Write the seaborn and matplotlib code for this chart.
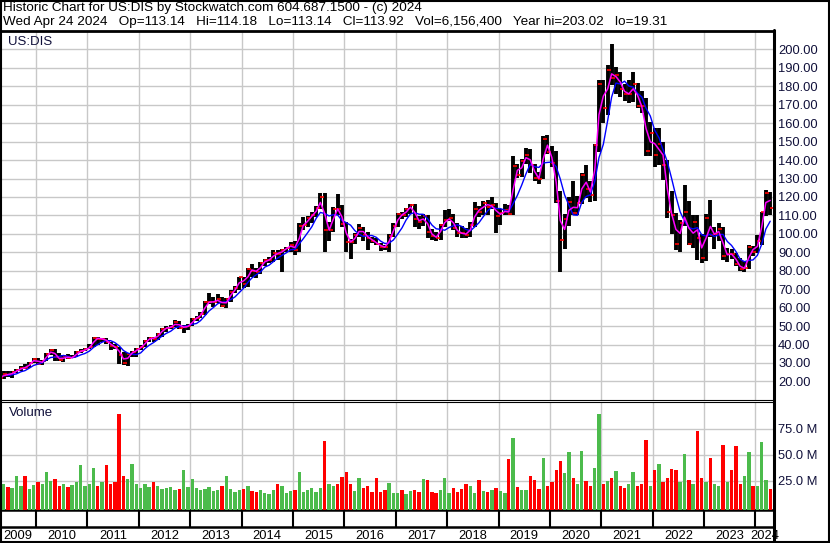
import numpy as np
import pandas as pd
import matplotlib
matplotlib.use('Agg')
import matplotlib.pyplot as plt
import matplotlib.dates as mdates
from matplotlib.lines import Line2D
from matplotlib.patches import Rectangle
import seaborn as sns

# monthly bars, Apr 2009 .. Apr 2024
close = [
    21.9, 24.2, 23.3, 25.1, 26.0, 27.5, 27.4, 30.2, 32.3,                      # 2009
    29.6, 31.2, 34.9, 36.9, 33.4, 31.5, 33.7, 32.6, 33.1, 36.1, 36.5, 37.5,    # 2010
    38.9, 43.7, 43.1, 43.1, 41.6, 39.0, 38.6, 34.2, 30.2, 34.9, 35.9, 37.5,    # 2011
    38.9, 42.0, 43.8, 43.1, 45.7, 48.5, 49.2, 49.5, 52.3, 49.1, 49.7, 49.8,    # 2012
    53.9, 54.6, 56.8, 62.8, 63.1, 63.2, 64.7, 60.8, 64.5, 68.6, 70.5, 76.4,    # 2013
    72.6, 80.8, 80.1, 79.3, 84.0, 85.7, 85.9, 89.9, 89.0, 91.4, 92.5, 94.2,    # 2014
    91.0, 104.1, 104.9, 108.7, 110.4, 114.1, 120.0, 101.9, 102.2, 113.7, 113.5, 105.1,
    95.8, 95.5, 99.3, 103.3, 99.2, 97.8, 96.0, 94.5, 92.9, 92.7, 99.1, 104.2,
    110.7, 110.1, 113.4, 115.6, 107.9, 106.3, 109.9, 101.2, 98.6, 97.8, 104.8, 107.5,
    108.7, 103.2, 100.4, 100.3, 99.5, 104.8, 113.6, 112.0, 116.9, 114.8, 115.5, 109.7,
    111.5, 112.8, 111.0, 137.0, 132.0, 139.6, 143.0, 137.3, 130.3, 129.9, 151.6, 144.6,
    138.3, 117.7, 96.6, 108.2, 117.3, 111.5, 116.9, 131.9, 124.1, 121.3, 148.0, 181.2,
    168.2, 189.0, 184.5, 186.0, 178.7, 175.8, 176.0, 181.3, 169.2, 169.1, 144.9, 154.9,
    143.0, 148.5, 137.2, 111.6, 110.4, 94.4, 106.1, 112.1, 94.3, 106.5, 97.9, 86.9,
    108.5, 99.6, 100.1, 102.5, 88.0, 89.3, 88.9, 83.7, 81.1, 81.6, 92.7, 90.3,
    96.1, 111.6, 122.4, 113.9,                                                 # 2024
]
high = [
    24.0, 25.5, 25.5, 25.7, 26.8, 28.5, 29.5, 30.5, 32.8,
    32.7, 31.7, 35.2, 37.6, 37.4, 35.5, 34.5, 34.9, 34.3, 36.6, 37.4, 38.0,
    40.5, 44.3, 44.0, 43.8, 43.4, 41.6, 40.5, 38.8, 36.0, 35.5, 36.5, 38.0,
    39.5, 42.5, 44.0, 44.3, 46.5, 48.8, 49.8, 50.5, 53.4, 53.0, 50.5, 51.0,
    54.2, 55.5, 57.5, 63.5, 67.9, 66.0, 67.5, 66.0, 65.0, 69.5, 71.5, 76.8,
    76.8, 81.5, 83.6, 81.5, 84.5, 86.5, 87.4, 91.0, 91.2, 92.0, 93.0, 95.8,
    96.0, 106.0, 109.0, 109.5, 112.0, 115.0, 122.0, 122.1, 106.5, 114.5, 121.7, 115.5,
    106.5, 97.0, 100.5, 105.5, 103.5, 101.0, 98.5, 97.5, 95.0, 94.0, 100.0, 106.0,
    111.5, 111.8, 114.0, 116.1, 116.0, 109.5, 111.0, 110.0, 102.5, 101.0, 105.5, 113.2,
    113.5, 111.0, 106.0, 104.5, 103.0, 106.5, 117.5, 115.0, 117.9, 118.5, 120.2, 116.5,
    113.5, 116.0, 115.5, 142.0, 138.0, 140.5, 146.5, 146.0, 138.0, 133.5, 153.0, 153.4,
    147.5, 145.0, 123.0, 111.0, 120.0, 128.8, 120.5, 133.0, 137.5, 128.5, 149.0, 183.4,
    183.5, 191.5, 203.0, 190.5, 187.5, 181.5, 183.5, 187.5, 182.0, 177.5, 173.8, 160.5,
    157.5, 157.5, 150.0, 140.0, 123.5, 111.5, 107.5, 126.5, 118.0, 110.0, 110.0, 100.0,
    111.0, 118.2, 104.0, 106.0, 104.0, 92.5, 92.0, 89.5, 87.0, 85.5, 94.0, 93.5,
    99.5, 112.0, 123.7, 122.5,
]
low = [
    19.3, 21.5, 22.5, 22.0, 24.5, 25.6, 27.0, 27.2, 29.8,
    29.2, 28.9, 31.2, 34.5, 31.0, 31.2, 30.3, 32.0, 32.5, 33.0, 35.6, 36.3,
    37.5, 38.5, 40.0, 41.5, 40.2, 37.2, 37.5, 29.5, 29.0, 28.2, 33.0, 33.5,
    37.0, 38.8, 41.5, 41.5, 42.5, 44.0, 47.0, 48.3, 49.5, 48.3, 46.5, 48.0,
    50.2, 53.0, 54.2, 56.0, 62.0, 60.4, 62.5, 60.5, 60.0, 63.0, 68.0, 69.5,
    70.5, 71.0, 76.5, 76.3, 78.5, 82.5, 84.0, 84.8, 85.9, 79.5, 90.0, 90.0,
    88.5, 90.0, 102.0, 103.5, 106.0, 109.0, 113.5, 90.0, 96.0, 101.0, 110.5, 103.5,
    90.0, 86.3, 94.5, 98.5, 96.0, 91.5, 95.0, 94.0, 90.5, 91.0, 90.3, 98.5,
    103.5, 108.0, 109.0, 111.0, 104.0, 102.5, 104.5, 98.0, 96.5, 96.2, 96.5, 103.5,
    107.0, 102.0, 98.5, 97.5, 98.0, 98.5, 104.0, 109.0, 110.5, 110.0, 113.5, 100.4,
    105.0, 110.0, 110.5, 110.5, 130.5, 131.0, 138.0, 133.0, 128.5, 127.0, 129.5, 143.5,
    136.0, 116.5, 79.1, 92.0, 104.5, 110.0, 110.5, 116.0, 119.5, 117.5, 118.0, 144.5,
    160.0, 164.5, 180.5, 176.0, 174.0, 172.0, 171.0, 171.5, 168.5, 165.5, 142.0, 142.0,
    136.5, 137.5, 129.0, 108.5, 100.0, 91.0, 90.2, 104.5, 94.0, 92.5, 86.0, 84.1,
    85.5, 98.5, 92.0, 96.0, 86.0, 84.5, 86.5, 82.5, 80.0, 79.3, 81.0, 88.0,
    89.5, 94.0, 109.5, 110.5,
]
# volume, millions of shares
volume = [
    51, 22, 19, 18, 30, 20, 30, 17, 21,
    24, 22, 33, 25, 27, 20, 22, 19, 21, 24, 40, 20,
    22, 37, 20, 24, 40, 22, 24, 89, 30, 27, 41, 22,
    18, 22, 19, 24, 20, 17, 18, 19, 16, 17, 35, 19,
    27, 18, 16, 17, 19, 15, 16, 20, 30, 17, 14, 16,
    17, 20, 15, 14, 16, 13, 12, 16, 22, 20, 13, 15,
    16, 33, 14, 16, 18, 14, 18, 63, 22, 20, 22, 29,
    33, 22, 15, 28, 18, 20, 14, 28, 14, 16, 23, 13,
    13, 16, 12, 15, 16, 14, 27, 26, 14, 13, 16, 28,
    13, 18, 14, 17, 22, 20, 13, 26, 15, 14, 16, 18,
    15, 13, 46, 66, 19, 16, 16, 30, 26, 17, 47, 20,
    24, 35, 44, 32, 53, 28, 22, 54, 25, 20, 37, 89,
    22, 25, 28, 34, 20, 18, 22, 33, 20, 22, 64, 20,
    35, 41, 24, 28, 36, 35, 24, 51, 26, 22, 73, 28,
    24, 47, 22, 20, 59, 24, 35, 58, 22, 30, 53, 20,
    20, 62, 26, 17,
]
years = list(range(2009, 2025))

df = pd.DataFrame({'close': close, 'high': high, 'low': low, 'volume': volume})
df['date'] = pd.date_range('2009-04-01', periods=len(df), freq='MS') + pd.Timedelta(days=14)
df['fast'] = df['close'].rolling(2, min_periods=1).mean()
df['slow'] = df['close'].rolling(5, min_periods=3).mean()
df['up'] = df['close'].diff().fillna(1) >= 0

sns.set_style('white')
plt.rcParams['font.family'] = ['Liberation Sans', 'DejaVu Sans']

W, H = 830, 543
fig = plt.figure(figsize=(W / 100, H / 100), dpi=100)


def box(x0, y0, x1, y1):
    return [x0 / W, 1 - y1 / H, (x1 - x0) / W, (y1 - y0) / H]


ax_p = fig.add_axes(box(0, 31, 774, 399.5))
ax_v = fig.add_axes(box(0, 402, 774, 510))
ax_d = fig.add_axes(box(0, 510, 774, 543))

x0 = mdates.date2num(pd.Timestamp('2009-04-20'))
x1 = mdates.date2num(pd.Timestamp('2024-05-12'))
year_lines = [mdates.date2num(pd.Timestamp(f'{y}-01-01')) for y in years[1:]]
grid_c = '#c8c8c8'
lab_c = '#10103a'

# price panel
ax_p.vlines(df['date'], df['low'], df['high'], color='black', lw=2.8, zorder=3)
ax_p.scatter(df['date'] + pd.Timedelta(days=10), df['close'], marker='_', s=5,
             color='red', linewidths=1.2, zorder=4)
sns.lineplot(x=df['date'], y=df['slow'], ax=ax_p, color='#0000ff', lw=1.0, zorder=5)
sns.lineplot(x=df['date'], y=df['fast'], ax=ax_p, color='#ff00ff', lw=1.1, zorder=6)
ax_p.set_xlim(x0, x1)
ax_p.set_ylim(10.2, 210)
ax_p.set_yticks(range(20, 201, 10))
ax_p.set_yticklabels([f'{v:.2f}' for v in range(20, 201, 10)])
ax_p.set_xticks(year_lines)
ax_p.set_xticklabels([])

# volume panel
cols = np.where(df['up'], '#4cbb4c', '#ff0000')
ax_v.bar(df['date'], df['volume'] + 3, bottom=-3, width=24, color=cols, lw=0, zorder=3)
ax_v.set_xlim(x0, x1)
ax_v.set_ylim(-3, 100.5)
ax_v.set_yticks([25, 50, 75])
ax_v.set_yticklabels(['25.0 M', '50.0 M', '75.0 M'])
ax_v.set_xticks(year_lines)
ax_v.set_xticklabels([])

for ax in (ax_p, ax_v):
    ax.set_xlabel('')
    ax.set_ylabel('')
    ax.set_axisbelow(True)
    ax.grid(True, color=grid_c, lw=1.0)
    ax.yaxis.tick_right()
    ax.tick_params(axis='y', length=0, pad=3, labelsize=9.3, labelcolor=lab_c)
    ax.tick_params(axis='x', length=0)
    for s in ax.spines.values():
        s.set_color('black')
        s.set_linewidth(0.8)
    ax.spines['right'].set_visible(False)
    ax.spines['left'].set_visible(False)

ax_p.spines['top'].set_linewidth(2.0)
ax_v.spines['bottom'].set_linewidth(1.8)

# date strip under the volume panel
ax_d.set_xlim(x0, x1)
ax_d.set_ylim(0, 1)
ax_d.axis('off')
ax_d.vlines(year_lines, 0.47, 1, color='black', lw=1.5)
ax_d.axhline(0.47, color='black', lw=1.8)
edges = [x0] + year_lines + [x1]
for y, a, b in zip(years, edges[:-1], edges[1:]):
    ax_d.text((a + b) / 2, 0.22, str(y), ha='center', va='center',
              fontsize=9.3, color='black', clip_on=False)

# labels and header
fig.text(8 / W, 1 - 42 / H, 'US:DIS', fontsize=9.5, va='center', color=lab_c)
fig.text(9 / W, 1 - 413 / H, 'Volume', fontsize=9.5, va='center', color=lab_c)
fig.text(3 / W, 1 - 8 / H,
         'Historic Chart for US:DIS by Stockwatch.com 604.687.1500 - (c) 2024',
         fontsize=9.7, va='center', color='black')
fig.text(3 / W, 1 - 22 / H,
         'Wed Apr 24 2024   Op=113.14   Hi=114.18   Lo=113.14   Cl=113.92   '
         'Vol=6,156,400   Year hi=203.02   lo=19.31',
         fontsize=9.7, va='center', color='black')

fig.add_artist(Line2D([774 / W, 774 / W], [0, 1 - 30 / H], color='black', lw=2.2))
fig.add_artist(Rectangle((0.001, 0.001), 0.998, 0.997, fill=False,
                         edgecolor='black', lw=1.5, transform=fig.transFigure))

fig.savefig('out.png', dpi=100)
